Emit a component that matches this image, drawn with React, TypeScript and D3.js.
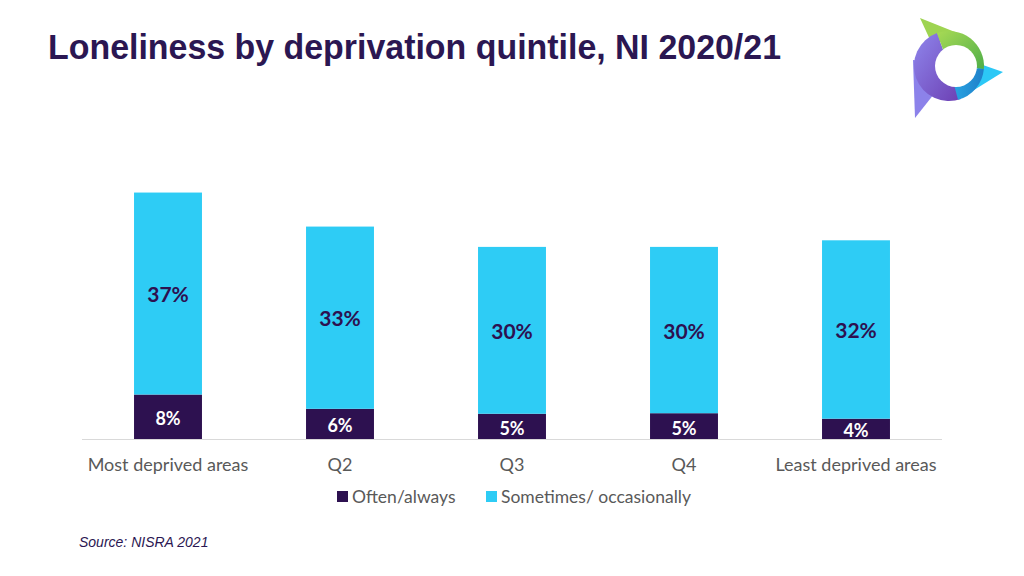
import React from "react";
import * as d3 from "d3";

const categories = ["Most deprived areas", "Q2", "Q3", "Q4", "Least deprived areas"];
const oftenAlways = [8.1, 5.5, 4.6, 4.7, 3.7];
const sometimes = [36.8, 33.2, 30.4, 30.3, 32.5];
const oftenLabels = ["8%", "6%", "5%", "5%", "4%"];
const sometimesLabels = ["37%", "33%", "30%", "30%", "32%"];
const seriesNames = ["Often/always", "Sometimes/ occasionally"];
const seriesColors = ["#2D1150", "#2ECCF5"];
const labelColors = ["#FFFFFF", "#2D1150"];

const W = 1024;
const H = 576;

export default function App() {
  const x = d3
    .scaleBand<string>()
    .domain(categories)
    .range([82, 942])
    .paddingInner(0.605)
    .paddingOuter(0.3025);
  const y = d3.scaleLinear().domain([0, 45]).range([439, 192]);

  const rows = categories.map((c, i) => ({ cat: c, often: oftenAlways[i], sometimes: sometimes[i] }));
  const stack = d3.stack<any>().keys(["often", "sometimes"]);
  const series = stack(rows);
  const labels = [oftenLabels, sometimesLabels];

  const font = "Lato, 'Open Sans', sans-serif";

  const cx = 949, cy = 66;
  const arc = d3.arc<any>().innerRadius(0).outerRadius(35);
  const deg = Math.PI / 180;

  return (
    <svg width={W} height={H} style={{ position: "absolute", left: 0, top: 0, background: "#fff" }}>
      <defs>
        <linearGradient id="gGreen" x1="0" y1="0" x2="1" y2="1">
          <stop offset="0" stopColor="#A8DA55" />
          <stop offset="1" stopColor="#4FAE48" />
        </linearGradient>
        <linearGradient id="gPurple" x1="0" y1="0" x2="1" y2="1">
          <stop offset="0" stopColor="#8F86EC" />
          <stop offset="1" stopColor="#6C3FB3" />
        </linearGradient>
        <linearGradient id="gBlue" x1="0" y1="0" x2="1" y2="0">
          <stop offset="0" stopColor="#2AA9E6" />
          <stop offset="1" stopColor="#1F7FC9" />
        </linearGradient>
      </defs>
      <text
        x={48}
        y={59}
        fontFamily="'Liberation Sans', Arial, sans-serif"
        fontWeight="bold"
        fontSize={35}
        fill="#2B1752"
        textLength={733}
        lengthAdjust="spacingAndGlyphs"
      >
        Loneliness by deprivation quintile, NI 2020/21
      </text>

      {/* logo */}
      <g>
        <polygon points="920,18 965,36 932,44" fill="#9ED451" />
        <polygon points="1003,72 980,64 966,95" fill="#2CC8F6" />
        <polygon points="913,60 915,118 934,94 936,62" fill="#8C82EA" />
        <path d={arc({ startAngle: 160 * deg, endAngle: 340 * deg }) || ""} transform={`translate(${cx},${cy})`} fill="url(#gPurple)" />
        <path d={arc({ startAngle: -20 * deg, endAngle: 95 * deg }) || ""} transform={`translate(${cx},${cy})`} fill="url(#gGreen)" />
        <path d={arc({ startAngle: 95 * deg, endAngle: 165 * deg }) || ""} transform={`translate(${cx},${cy})`} fill="url(#gBlue)" />
        <circle cx={956} cy={66} r={21} fill="#fff" />
      </g>

      {/* axis line */}
      <line x1={82} x2={942} y1={439.5} y2={439.5} stroke="#D9D9D9" strokeWidth={1} />

      {series.map((s, si) => (
        <g key={si}>
          {s.map((d, i) => {
            const x0 = x(categories[i]) as number;
            const bw = x.bandwidth();
            const top = y(d[1]);
            const bot = y(d[0]);
            return (
              <g key={i}>
                <rect x={x0} y={top} width={bw} height={bot - top} fill={seriesColors[si]} />
                <text
                  x={x0 + bw / 2}
                  y={(top + bot) / 2 + (si === 0 ? 2 : 1)}
                  dy="0.36em"
                  textAnchor="middle"
                  fontFamily={font}
                  fontWeight="bold"
                  fontSize={si === 0 ? 18 : 21}
                  fill={labelColors[si]}
                >
                  {labels[si][i]}
                </text>
              </g>
            );
          })}
        </g>
      ))}

      {categories.map((c) => (
        <text
          key={c}
          x={(x(c) as number) + x.bandwidth() / 2}
          y={471}
          textAnchor="middle"
          fontFamily={font}
          fontSize={18}
          fill="#595959"
        >
          {c}
        </text>
      ))}

      {/* legend */}
      {seriesNames.map((n, i) => {
        const lx = i === 0 ? 337 : 486;
        return (
          <g key={n}>
            <rect x={lx} y={491} width={11} height={11} fill={seriesColors[i]} />
            <text x={lx + 15} y={503} fontFamily={font} fontSize={17.5} fill="#595959">
              {n}
            </text>
          </g>
        );
      })}

      <text
        x={79}
        y={547}
        fontFamily="'Liberation Sans', Arial, sans-serif"
        fontStyle="italic"
        fontSize={14}
        fill="#2B1752"
      >
        Source: NISRA 2021
      </text>
    </svg>
  );
}
